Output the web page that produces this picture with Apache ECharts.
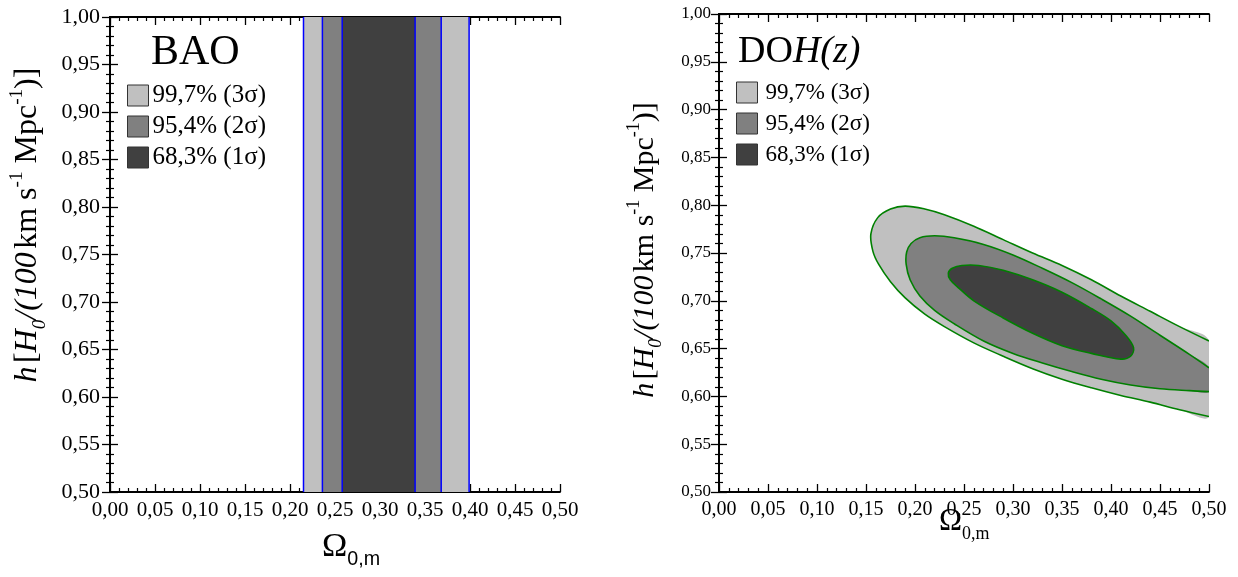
<!DOCTYPE html>
<html><head><meta charset="utf-8">
<script src="https://cdn.jsdelivr.net/npm/echarts@6/dist/echarts.min.js"></script>
<style>html,body{margin:0;padding:0;background:#fff}#c{width:1238px;height:577px}</style>
</head><body><div id="c"></div>
<script>
// ---------- data ----------
const sigmaLabels = ['99,7% (3σ)', '95,4% (2σ)', '68,3% (1σ)'];
// BAO: Ω0,m intervals (independent of h)
const bao3 = [0.215, 0.399];
const bao2 = [0.236, 0.368];
const bao1 = [0.258, 0.339];
// DOH(z): contour boundary points [Ω0,m, h]
const doh3 = [
  [0.50,0.658],[0.47,0.673],[0.44,0.689],[0.41,0.705],[0.38,0.722],[0.35,0.737],[0.32,0.750],
  [0.29,0.764],[0.26,0.778],[0.23,0.790],[0.21,0.796],[0.19,0.799],[0.175,0.796],[0.162,0.787],
  [0.155,0.770],[0.157,0.752],[0.163,0.738],[0.175,0.720],[0.19,0.703],[0.21,0.686],[0.23,0.673],
  [0.26,0.656],[0.29,0.642],[0.32,0.629],[0.35,0.618],[0.38,0.609],[0.41,0.601],[0.44,0.594],
  [0.47,0.586],[0.50,0.579]
];
const doh2 = [
  [0.50,0.630],[0.48,0.644],[0.45,0.664],[0.42,0.684],[0.39,0.702],[0.36,0.719],[0.33,0.734],
  [0.30,0.748],[0.27,0.759],[0.24,0.766],[0.22,0.768],[0.205,0.766],[0.196,0.760],[0.1915,0.751],
  [0.191,0.738],[0.195,0.722],[0.205,0.705],[0.22,0.690],[0.24,0.676],[0.27,0.658],[0.30,0.645],
  [0.33,0.635],[0.36,0.626],[0.39,0.618],[0.42,0.612],[0.45,0.608],[0.48,0.606],[0.50,0.605]
];
const doh1 = [
  [0.234,0.729],[0.238,0.734],[0.248,0.737],[0.265,0.737],[0.29,0.732],[0.32,0.722],[0.35,0.709],
  [0.38,0.692],[0.40,0.679],[0.415,0.664],[0.423,0.651],[0.42,0.642],[0.41,0.639],[0.38,0.645],
  [0.35,0.653],[0.32,0.666],[0.29,0.682],[0.26,0.700],[0.245,0.713],[0.236,0.722]
];
const xRange = [0, 0.5];
const yRange = [0.5, 1.0];
const tickStep = 0.05;

// ---------- styles ----------
const fills = ['#c0c0c0', '#808080', '#404040'];
const SERIF = 'Liberation Serif';
const fmt = v => v.toFixed(2).replace('.', ',');

function bandSeries(name, band, color) {
  return {
    type: 'custom', name, xAxisIndex: 0, yAxisIndex: 0,
    data: [band], encode: { x: [0, 1] },
    itemStyle: { color },
    renderItem(params, api) {
      const a = api.coord([api.value(0), yRange[1]]);
      const b = api.coord([api.value(1), yRange[0]]);
      const ln = x => ({ type: 'line', shape: { x1: x, y1: a[1], x2: x, y2: b[1] },
        style: { stroke: '#0000ff', lineWidth: 1.5 } });
      return { type: 'group', children: [
        { type: 'rect', shape: { x: a[0], y: a[1], width: b[0] - a[0], height: b[1] - a[1] }, style: { fill: color } },
        ln(a[0]), ln(b[0])
      ] };
    }
  };
}

function contourSeries(name, pts, color, closed) {
  return {
    type: 'custom', name, xAxisIndex: 2, yAxisIndex: 2, clip: true,
    data: pts, encode: { x: 0, y: 1 },
    itemStyle: { color },
    renderItem(params, api) {
      if (params.dataIndex !== 0) return null;
      const n = params.dataInsideLength;
      const p = [];
      for (let i = 0; i < n; i++) p.push(api.coord([api.value(0, i), api.value(1, i)]));
      const children = [
        { type: 'polygon', shape: { points: p, smooth: 0.35 }, style: closed ?
          { fill: color, stroke: '#008000', lineWidth: 1.6 } : { fill: color } }
      ];
      if (!closed) children.push({ type: 'polyline', shape: { points: p, smooth: 0.35 },
        style: { fill: null, stroke: '#008000', lineWidth: 1.6 } });
      return { type: 'group', children };
    }
  };
}

function xAx(grid, pos, show, labelSize) {
  return {
    type: 'value', gridIndex: grid, position: pos, min: xRange[0], max: xRange[1], interval: tickStep,
    axisLine: { show: true, lineStyle: { color: '#000', width: 1.8 } },
    axisTick: { show: true, inside: true, length: 8, lineStyle: { color: '#000', width: 1.3 } },
    minorTick: { show: true, splitNumber: 5, length: 4, lineStyle: { color: '#000', width: 1.2 } },
    splitLine: { show: false },
    axisLabel: { show: show, formatter: fmt, color: '#000', fontFamily: SERIF, fontSize: labelSize, margin: 8 }
  };
}
function yAx(grid, pos, show, labelSize, margin) {
  return {
    type: 'value', gridIndex: grid, position: pos, min: yRange[0], max: yRange[1], interval: tickStep,
    axisLine: { show: true, lineStyle: { color: '#000', width: 1.8 } },
    axisTick: { show: true, inside: true, length: 8, lineStyle: { color: '#000', width: 1.3 } },
    minorTick: { show: true, splitNumber: 5, length: 4, lineStyle: { color: '#000', width: 1.2 } },
    splitLine: { show: false },
    axisLabel: { show: show, formatter: fmt, color: '#000', fontFamily: SERIF, fontSize: labelSize, margin: margin || 8 }
  };
}

function hTitle(fs, x, y) {
  const lh = fs + 10;
  return {
    type: 'text', x, y, rotation: Math.PI / 2,
    style: {
      text: '{i|h} {n|[}{i|H}{isub|0}{i|/(100} {n|km s}{sup|-1}{n| Mpc}{sup|-1}{n|)]}',
      align: 'center', verticalAlign: 'middle',
      rich: {
        i: { fontFamily: SERIF, fontStyle: 'italic', fontSize: fs, lineHeight: lh, fill: '#000' },
        n: { fontFamily: SERIF, fontSize: fs, lineHeight: lh, fill: '#000' },
        isub: { fontFamily: SERIF, fontStyle: 'italic', fontSize: fs * 0.6, lineHeight: fs * 0.6, verticalAlign: 'bottom', fill: '#000' },
        sup: { fontFamily: SERIF, fontSize: fs * 0.6, lineHeight: fs * 0.6, verticalAlign: 'top', fill: '#000' }
      }
    }
  };
}
function omegaTitle(fs, subFont, x, y) {
  return {
    type: 'text', x, y,
    style: {
      text: '{o|Ω}{s|0,m}', align: 'left', verticalAlign: 'top',
      rich: {
        o: { fontFamily: SERIF, fontSize: fs, lineHeight: fs + 12, fill: '#000' },
        s: { fontFamily: subFont, fontSize: fs * 0.58, lineHeight: fs * 0.6, verticalAlign: 'bottom', fill: '#000' }
      }
    }
  };
}

const legendBase = {
  orient: 'vertical', icon: 'rect', itemWidth: 21, itemHeight: 21, padding: 0,
  itemStyle: { borderColor: '#333', borderWidth: 1 },
  selectedMode: false, data: sigmaLabels
};

const chart = echarts.init(document.getElementById('c'), null, { renderer: 'canvas' });
chart.setOption({
  backgroundColor: '#fff',
  animation: false,
  title: [
    { text: 'BAO', left: 146, top: 27, textStyle: { fontFamily: SERIF, fontSize: 42, fontWeight: 'normal', color: '#000' } },
    { text: '{n|DO}{i|H(z)}', left: 733, top: 28, textStyle: { fontWeight: 'normal', rich: {
      n: { fontFamily: SERIF, fontSize: 38, fontWeight: 'normal', color: '#000' },
      i: { fontFamily: SERIF, fontSize: 38, fontWeight: 'normal', fontStyle: 'italic', color: '#000' } } } }
  ],
  legend: [
    Object.assign({}, legendBase, { left: 127, top: 83, itemGap: 6,
      textStyle: { fontFamily: SERIF, fontSize: 25, lineHeight: 21, color: '#000', padding: [0, 0, 0, -1] } }),
    Object.assign({}, legendBase, { left: 736, top: 81, itemGap: 8,
      textStyle: { fontFamily: SERIF, fontSize: 23, lineHeight: 21, color: '#000', padding: [0, 0, 0, 3] } })
  ],
  grid: [
    { left: 110, right: 1238 - 560, top: 17, bottom: 577 - 492 },
    { left: 719, right: 1238 - 1209, top: 14, bottom: 577 - 492 }
  ],
  xAxis: [
    xAx(0, 'bottom', true, 21),
    xAx(0, 'top', false, 21),
    xAx(1, 'bottom', true, 20),
    xAx(1, 'top', false, 20)
  ],
  yAxis: [
    yAx(0, 'left', true, 22, 10),
    yAx(0, 'right', false, 22),
    yAx(1, 'left', true, 17, 8),
    yAx(1, 'right', false, 17)
  ],
  graphic: [
    hTitle(32, 28, 225),
    hTitle(30, 645, 250),
    omegaTitle(34, 'Liberation Sans', 322, 524),
    omegaTitle(31, SERIF, 939, 500)
  ],
  series: [
    bandSeries(sigmaLabels[0], bao3, fills[0]),
    bandSeries(sigmaLabels[1], bao2, fills[1]),
    bandSeries(sigmaLabels[2], bao1, fills[2]),
    contourSeries(sigmaLabels[0], doh3, fills[0], false),
    contourSeries(sigmaLabels[1], doh2, fills[1], false),
    contourSeries(sigmaLabels[2], doh1, fills[2], true)
  ]
});
</script></body></html>
